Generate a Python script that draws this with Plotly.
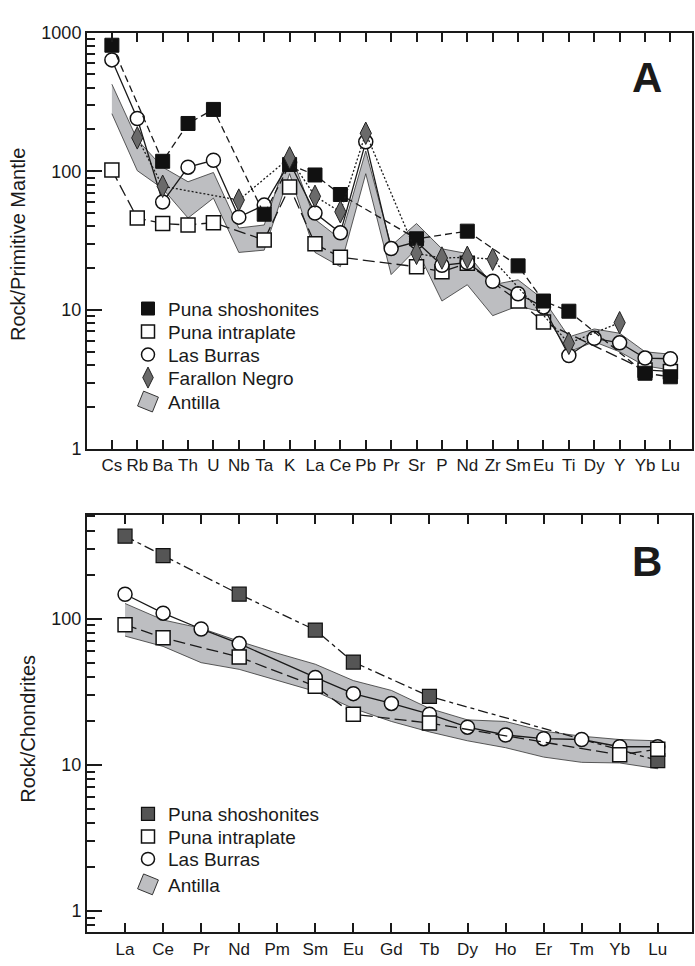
import plotly.graph_objects as go

# ---------------- Panel A data (Rock / Primitive Mantle) ----------------
elements_a = ["Cs", "Rb", "Ba", "Th", "U", "Nb", "Ta", "K", "La", "Ce", "Pb", "Pr",
              "Sr", "P", "Nd", "Zr", "Sm", "Eu", "Ti", "Dy", "Y", "Yb", "Lu"]

shosh_a = [810, None, 118, 221, 279, None, 49, 112, 94, 68, None, None,
           32.6, None, 37, None, 20.8, 11.6, 9.8, None, None, 3.5, 3.3]
intra_a = [102, 46, 42, 41, 42.6, None, 32, 77, 30, 24, None, None,
           20.5, 18.9, 21.7, None, 11.6, 8.2, None, None, None, 3.7, 3.6]
burras_a = [635, 240, 60, 107, 120, 46.7, 57, 116, 50, 36, 163, 27.7,
            31, 21, 22, 16.1, 13.1, 10.5, 4.7, 6.25, 5.8, 4.5, 4.45]
farallon_a = [None, 174, 78, None, None, 62, None, 125, 66, 51, 188, None,
              25.6, 23.7, 24, 23.2, None, None, 5.75, None, 8.1, None, None]
antilla_a_upper = [424, 169, 107, 84, 98, 39, 41, 140, 45, 32.5, 140, 29,
                   42, 27.6, 25.5, 15.2, 16.5, 11.9, 6.4, 7.3, 6.8, 5.0, 4.8]
antilla_a_lower = [260, 101, 75, 46, 64, 26, 27, 96, 26, 20.5, 96, 18,
                   27.6, 11.6, 15.2, 9.1, 10.7, 9.6, 5.0, 5.9, 5.0, 3.95, 3.7]

# ---------------- Panel B data (Rock / Chondrites) ----------------
elements_b = ["La", "Ce", "Pr", "Nd", "Pm", "Sm", "Eu", "Gd", "Tb", "Dy", "Ho",
              "Er", "Tm", "Yb", "Lu"]
shosh_b = [367, 270, None, 147, None, 83.6, 50.5, None, 29.4, None, None,
           None, None, None, 10.7]
intra_b = [91, 74, None, 54.6, None, 34.5, 22.2, None, 19.3, None, None,
           None, None, 11.7, 12.8]
burras_b = [147, 109, 85, 67.5, None, 39.6, 30.7, 26.3, 22.2, 18.1, 16,
            15.1, 14.9, 13.3, 13.3]
antilla_b_upper = [127, 98, 86, 70, 58, 48.8, 37.7, 32.3, 24.3, 20.3, 19.8,
                   17, 15.7, 14.9, 14.6]
antilla_b_lower = [76, 64.6, 50, 45, 37.7, 31.8, 24.3, 19.8, 16.8, 14.6, 13.1,
                   11.3, 10.4, 10.3, 9.4]

y_ticks_a = [1, 10, 100, 1000]
y_ticks_b = [1, 10, 100]
minor_a = [m * d for d in (1, 10, 100) for m in range(2, 10)]
minor_b = [0.8, 0.9] + [m * d for d in (1, 10) for m in range(2, 10)] + [200, 300, 400, 500]

W, H = 695, 966
INK = "#1a1a1a"
BAND = "#bdbec1"
NARROW = "Liberation Sans Narrow, Arial Narrow, Liberation Sans, Arial, sans-serif"
SANS = "Liberation Sans, Arial, Helvetica, sans-serif"

fig = go.Figure()


def band(xvals, up, low, xa, ya):
    xs = list(xvals) + list(xvals)[::-1]
    ys = list(up) + list(low)[::-1]
    fig.add_trace(go.Scatter(x=xs, y=ys, mode="lines", fill="toself",
                             fillcolor=BAND, line=dict(color="#333", width=0.8),
                             xaxis=xa, yaxis=ya, showlegend=False, hoverinfo="skip"))


def series(xvals, vals, xa, ya, dash, marker):
    fig.add_trace(go.Scatter(x=xvals, y=vals, mode="lines+markers", connectgaps=True,
                             line=dict(color=INK, width=1.3, dash=dash),
                             marker=marker, xaxis=xa, yaxis=ya, showlegend=False))


sq_black = dict(symbol="square", size=14, color="#111", line=dict(color="#111", width=1))
sq_dark = dict(symbol="square", size=14, color="#555", line=dict(color="#111", width=1.2))
sq_open = dict(symbol="square", size=14, color="white", line=dict(color="#111", width=1.5))
circ_open = dict(symbol="circle", size=14, color="white", line=dict(color="#111", width=1.5))
diam = dict(symbol="diamond-tall", size=16, color="#6a6a6a", line=dict(color="#222", width=1))

xa_idx = list(range(len(elements_a)))
xb_idx = list(range(len(elements_b)))

# Panel A
band(xa_idx, antilla_a_upper, antilla_a_lower, "x", "y")
series(xa_idx, intra_a, "x", "y", "12px,5px", sq_open)
series(xa_idx, burras_a, "x", "y", "solid", circ_open)
series(xa_idx, shosh_a, "x", "y", "7px,4px", sq_black)
series(xa_idx, farallon_a, "x", "y", "2px,2px", diam)

# Panel B
band(xb_idx, antilla_b_upper, antilla_b_lower, "x2", "y2")
series(xb_idx, shosh_b, "x2", "y2", "10px,4px,4px,4px", sq_dark)
series(xb_idx, burras_b, "x2", "y2", "solid", circ_open)
series(xb_idx, intra_b, "x2", "y2", "12px,5px", sq_open)

# ---------------- legends (one legend per entry for exact placement) ----------------
band_icon = dict(symbol="square", size=19, angle=22, color=BAND, line=dict(color="#333", width=1))
legend_entries = [
    ("Puna shoshonites", dict(symbol="square", size=13, color="#111", line=dict(color="#111", width=1)), 305, "x", "y"),
    ("Puna intraplate", dict(symbol="square", size=13, color="white", line=dict(color="#111", width=1.5)), 328.5, "x", "y"),
    ("Las Burras", dict(symbol="circle", size=13, color="white", line=dict(color="#111", width=1.5)), 352, "x", "y"),
    ("Farallon Negro", dict(symbol="diamond-tall", size=15, color="#6a6a6a", line=dict(color="#222", width=1)), 375.5, "x", "y"),
    ("Antilla", band_icon, 400, "x", "y"),
    ("Puna shoshonites", dict(symbol="square", size=13, color="#555", line=dict(color="#111", width=1.2)), 821, "x2", "y2"),
    ("Puna intraplate", dict(symbol="square", size=13, color="white", line=dict(color="#111", width=1.5)), 844, "x2", "y2"),
    ("Las Burras", dict(symbol="circle", size=13, color="white", line=dict(color="#111", width=1.5)), 867, "x2", "y2"),
    ("Antilla", band_icon, 893, "x2", "y2"),
]

legend_layouts = {}
for i, (name, mk, ypx, xa, ya) in enumerate(legend_entries):
    lname = "legend" if i == 0 else f"legend{i + 1}"
    fig.add_trace(go.Scatter(x=[None], y=[None], mode="markers", marker=mk,
                             name=name, legend=lname, xaxis=xa, yaxis=ya))
    legend_layouts[lname] = dict(x=(148 - 20) / W, xanchor="left",
                                 y=1 - ypx / H, yanchor="middle",
                                 bgcolor="rgba(0,0,0,0)", borderwidth=0,
                                 font=dict(family=SANS, size=19, color=INK),
                                 itemsizing="trace", tracegroupgap=0)

frame = dict(showline=True, linecolor=INK, linewidth=2, showgrid=False, zeroline=False)
x_dom = [87 / W, 692 / W]
dom_a = [1 - 448 / H, 1 - 23 / H]
dom_b = [1 - 942 / H, 1 - 516 / H]
range_a = [0, 3]
range_b = [-0.147, 2.707]


def yaxis(domain, rng, ticks_major, minor_vals, anchor, side="left", overlay=None):
    d = dict(domain=domain, anchor=anchor, type="log", range=rng, side=side,
             tickmode="array", tickvals=ticks_major,
             ticktext=[str(v) for v in ticks_major] if side == "left" else None,
             showticklabels=(side == "left"), ticks="inside", ticklen=15,
             tickcolor=INK, tickwidth=1.5,
             tickfont=dict(family=NARROW, size=18, color=INK),
             minor=dict(ticks="inside", ticklen=8, tickcolor=INK, tickwidth=1.5,
                        tickvals=minor_vals),
             mirror=True, **frame)
    if overlay:
        d["overlaying"] = overlay
    return d


def xaxis(rng, idx, labels, anchor):
    return dict(domain=x_dom, anchor=anchor, range=rng, tickmode="array",
                tickvals=idx, ticktext=labels, ticks="inside", ticklen=9,
                tickcolor=INK, tickwidth=1.5, tickangle=0, mirror="ticks",
                tickfont=dict(family=NARROW, size=17, color=INK), **frame)


fig.update_layout(
    width=W, height=H, margin=dict(l=0, r=0, t=0, b=0),
    paper_bgcolor="white", plot_bgcolor="white",
    showlegend=True,
    xaxis=xaxis([-0.98, 22.85], xa_idx, elements_a, "y"),
    yaxis=yaxis(dom_a, range_a, y_ticks_a, minor_a, "x"),
    yaxis3=yaxis(dom_a, range_a, y_ticks_a, minor_a, "x", side="right", overlay="y"),
    xaxis2=xaxis([-1.0, 14.9], xb_idx, elements_b, "y2"),
    yaxis2=yaxis(dom_b, range_b, y_ticks_b, minor_b, "x2"),
    yaxis4=yaxis(dom_b, range_b, y_ticks_b, minor_b, "x2", side="right", overlay="y2"),
    annotations=[
        dict(text="<b>A</b>", x=647 / W, y=1 - 69 / H, xref="paper", yref="paper",
             xanchor="center", yanchor="middle", showarrow=False,
             font=dict(family=SANS, size=42, color=INK)),
        dict(text="<b>B</b>", x=647 / W, y=1 - 563 / H, xref="paper", yref="paper",
             xanchor="center", yanchor="middle", showarrow=False,
             font=dict(family=SANS, size=42, color=INK)),
        dict(text="Rock/Primitive Mantle", textangle=-90, x=18 / W, y=1 - 240 / H,
             xref="paper", yref="paper", xanchor="center", yanchor="middle",
             showarrow=False, font=dict(family=SANS, size=20, color=INK)),
        dict(text="Rock/Chondrites", textangle=-90, x=28 / W, y=1 - 734 / H,
             xref="paper", yref="paper", xanchor="center", yanchor="middle",
             showarrow=False, font=dict(family=SANS, size=20, color=INK)),
    ],
    **legend_layouts,
)

fig.write_html("out.html")
